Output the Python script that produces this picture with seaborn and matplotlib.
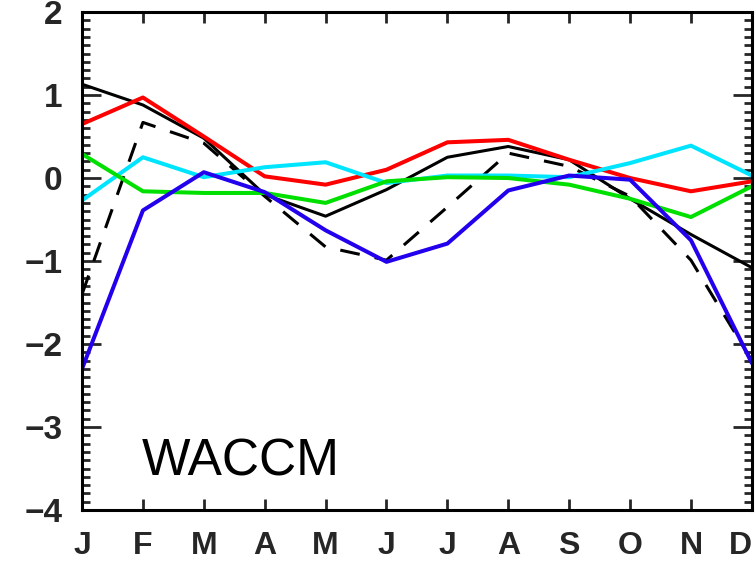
import numpy as np
import pandas as pd
import matplotlib
matplotlib.use("Agg")
from matplotlib import pyplot
import matplotlib.ticker as mtick
import seaborn as sns

sns.set_style("ticks")
pyplot.rcParams['font.family'] = ['Liberation Sans', 'DejaVu Sans']

months = ["J", "F", "M", "A", "M", "J", "J", "A", "S", "O", "N", "D"]
black_solid = [1.13, 0.88, 0.48, -0.2, -0.46, -0.14, 0.25, 0.38, 0.22, -0.25, -0.68, -1.08]
black_dash = [-1.4, 0.67, 0.42, -0.22, -0.83, -0.99, -0.35, 0.3, 0.14, -0.22, -0.99, -2.2]
red = [0.65, 0.97, 0.5, 0.02, -0.08, 0.1, 0.43, 0.46, 0.22, 0.0, -0.16, -0.04]
cyan = [-0.27, 0.25, 0.01, 0.13, 0.19, -0.06, 0.03, 0.03, 0.01, 0.18, 0.39, 0.03]
green = [0.29, -0.16, -0.18, -0.18, -0.3, -0.04, 0.01, 0.0, -0.08, -0.25, -0.47, -0.1]
blue = [-2.3, -0.39, 0.07, -0.17, -0.63, -1.01, -0.79, -0.15, 0.03, -0.02, -0.75, -2.23]

month_idx = np.arange(len(months))

fig = pyplot.figure(figsize=(7.56, 5.67), dpi=100)
ax = fig.add_axes([0.1085, 0.1005, 0.886, 0.8783])

# draw order: black, dashed, red, cyan, green, blue
sns.lineplot(x=month_idx, y=black_solid, color="black", lw=2.2, ax=ax)
sns.lineplot(x=month_idx, y=black_dash, color="black", lw=2.2, ax=ax)
ax.lines[-1].set_dashes([6.5, 5])
sns.lineplot(x=month_idx, y=red, color="#ff0000", lw=2.9, ax=ax)
sns.lineplot(x=month_idx, y=cyan, color="#00e5ff", lw=2.9, ax=ax)
sns.lineplot(x=month_idx, y=green, color="#00e000", lw=2.9, ax=ax)
sns.lineplot(x=month_idx, y=blue, color="#2200ee", lw=2.9, ax=ax)

ax.set_xlim(0, 11)
ax.set_ylim(-4, 2)
ax.set_xticks(month_idx)
ax.set_xticklabels(months)
ax.yaxis.set_major_locator(mtick.MultipleLocator(1))
ax.yaxis.set_minor_locator(mtick.MultipleLocator(0.1))
ax.yaxis.set_major_formatter(mtick.FuncFormatter(lambda y, _: '%d' % y if y >= 0 else '\u2212%d' % -y))

ax.tick_params(axis='x', which='major', direction='in', top=True, bottom=True,
               length=8, width=2, pad=15, labelsize=23)
ax.tick_params(axis='y', which='major', direction='in', left=True, right=True,
               length=14, width=2, pad=14, labelsize=24)
ax.tick_params(axis='y', which='minor', direction='in', left=True, right=True,
               length=6, width=2)
for lab in ax.get_xticklabels() + ax.get_yticklabels():
    lab.set_fontweight('bold')
# last month label sits at the right edge; nudge it in so it stays visible
ax.get_xticklabels()[-1].set_horizontalalignment('right')

for side in ["left", "right", "top", "bottom"]:
    ax.spines[side].set_visible(True)
    ax.spines[side].set_color("black")
    ax.spines[side].set_linewidth(2.2)

ax.text(0.98, -3.58, "WACCM", fontsize=37, color="black", ha="left", va="baseline")
ax.set_xlabel("")
ax.set_ylabel("")

pyplot.savefig("out.png", dpi=100)
